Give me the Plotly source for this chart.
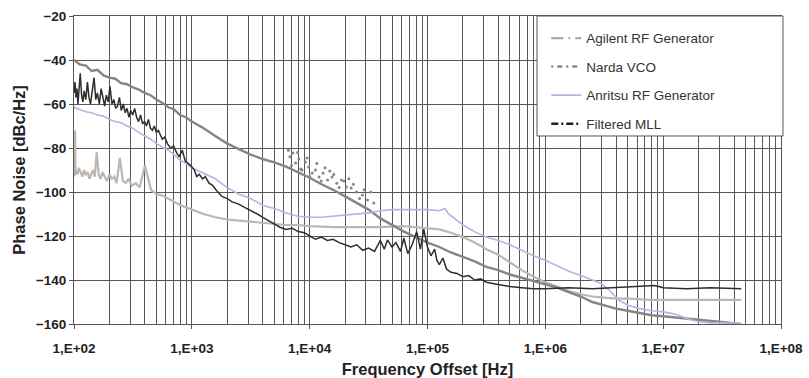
import plotly.graph_objects as go

# ---------------- data ----------------
narda_f = [100, 112, 126, 141, 158, 178, 200, 224, 251, 282, 316, 355, 398, 447, 501, 562, 631, 708, 794, 891,
           1000, 1260, 1580, 2000, 2510, 3160, 3980, 5010, 6310, 7940,
           1.0e4, 1.26e4, 1.58e4, 2.0e4, 2.51e4, 3.16e4, 3.98e4, 5.01e4, 6.31e4, 7.94e4,
           1.0e5, 1.26e5, 1.58e5, 2.0e5, 2.51e5, 3.16e5, 3.98e5, 5.01e5, 6.31e5, 7.94e5,
           1.0e6, 1.26e6, 1.58e6, 2.0e6, 2.51e6, 3.16e6, 3.98e6, 5.01e6, 6.31e6, 7.94e6,
           1.0e7, 1.26e7, 1.58e7, 2.0e7, 2.51e7, 3.16e7, 3.98e7, 4.6e7]
narda_db = [-40, -42, -42.5, -45, -44.5, -47, -48, -48.5, -50.5, -51, -52.5, -53.5, -55, -56, -58, -59.5, -61.5, -62.5, -65, -66,
            -68, -71, -74.5, -78, -80.5, -83, -85, -86.5, -88.5, -91,
            -93.5, -96.5, -99, -102, -105, -108, -112, -115, -118, -120.5,
            -123, -125, -127.5, -129.5, -131.5, -134, -135.5, -137.5, -139, -140.5,
            -142, -143.5, -145.5, -147.5, -150, -151.5, -153, -154, -155, -156,
            -156.5, -157, -157.5, -158, -158.5, -159, -159.5, -160]

narda_spur_f = [6.6e3, 6.8e3, 7.2e3, 7.6e3, 8.1e3, 8.6e3, 9.2e3, 9.8e3, 1.05e4, 1.12e4, 1.2e4, 1.3e4,
                1.42e4, 1.55e4, 1.7e4, 1.86e4, 2.05e4, 2.25e4, 2.5e4, 2.8e4, 3.1e4, 3.5e4,
                7.9e3, 9.5e3, 1.15e4, 1.35e4, 1.6e4, 1.95e4, 2.35e4, 2.9e4,
                7.0e3, 8.4e3, 1.0e4, 1.25e4, 1.48e4, 1.78e4, 2.15e4, 2.65e4, 3.3e4]
narda_spur_db = [-81, -84, -82.3, -86.8, -85, -90, -86.4, -88.6, -91.4, -90, -93.2, -91.4,
                 -94.5, -93.2, -96, -94.5, -97.7, -98.2, -100, -101.4, -103.6, -105,
                 -82, -84.5, -87, -89, -92, -95, -96.5, -99,
                 -88, -89.5, -93, -95, -90.5, -98, -94, -103, -100]

agilent_f = [100, 101, 102, 103, 105, 107, 110, 114, 118, 122,
             126, 131, 135, 140, 145, 150, 156, 162, 168, 175,
             182, 190, 200, 210, 220, 230, 245, 260, 275, 290,
             310, 335, 360, 400, 450, 500, 560, 630, 710, 800,
             1000, 1260, 1580, 2000, 2510, 3160, 3980, 5010, 6310, 7940,
             1.0e4, 1.58e4, 2.51e4, 3.98e4, 6.31e4,
             1.0e5, 1.26e5, 1.58e5, 2.0e5, 2.51e5, 3.16e5, 3.98e5, 5.01e5, 6.31e5, 7.94e5,
             1.0e6, 1.26e6, 1.58e6, 2.0e6, 2.51e6, 3.16e6, 3.98e6, 5.01e6, 7.94e6,
             1.26e7, 2.0e7, 3.16e7, 4.6e7]
agilent_db = [-80, -93, -72, -92, -90, -92, -89, -91, -93, -90,
              -92, -91, -94, -92, -90, -93, -82, -92, -94, -91,
              -93, -95, -92, -94, -93, -96, -84.5, -95, -96, -94,
              -97, -96, -98, -88, -99, -101, -101.5, -103, -104.5, -106,
              -108, -110, -111.5, -112.5, -113, -113.5, -114, -114.5, -115, -115,
              -115.5, -116, -116, -116, -115.5,
              -116.5, -117, -118.5, -120.5, -123, -126, -128.5, -132, -135.5, -138.5,
              -141, -143, -145, -146.5, -147.5, -148, -148.5, -148.5, -149,
              -149, -149, -149, -149]

anritsu_f = [100, 112, 126, 141, 158, 178, 200, 224, 251, 282, 316, 355, 398, 447, 501, 562, 631, 708, 794, 891,
             1000, 1260, 1580, 2000, 2510, 3160, 3980, 5010, 6310, 7940,
             1.0e4, 1.26e4, 1.58e4, 2.0e4, 2.51e4, 3.16e4, 3.98e4, 5.01e4, 6.31e4, 7.94e4,
             1.0e5, 1.26e5, 1.41e5, 1.51e5, 1.78e5, 2.0e5, 2.51e5, 3.16e5, 3.98e5, 5.01e5, 6.31e5, 7.94e5,
             1.0e6, 1.26e6, 1.58e6, 2.0e6, 2.51e6, 2.95e6, 3.55e6, 4.17e6, 5.01e6, 6.31e6, 7.94e6,
             1.0e7, 1.26e7, 1.58e7, 2.0e7, 2.51e7, 3.16e7, 3.98e7, 4.6e7]
anritsu_db = [-61.5, -62.5, -63.5, -64, -65, -65.5, -67, -68, -68.5, -70, -71, -73, -74.5, -76, -78, -79.5, -81, -83, -85.5, -87,
              -89, -91.5, -94, -98, -101, -103, -106, -107.5, -109.5, -111,
              -111.5, -111.5, -111, -110.5, -110, -109.5, -108.5, -108, -108, -108,
              -108, -108.5, -107.5, -110, -113, -115, -118, -120.5, -122, -124, -126.5, -129,
              -131, -133.5, -136, -138, -140, -141.5, -145, -149, -151.5, -153, -154,
              -154.5, -155.5, -157.5, -159, -159.5, -159.5, -159.5, -160]

mll_f = [100, 102, 104, 106, 108, 110, 113, 116, 119, 122, 126, 130, 134, 138, 143, 148, 153, 158, 164, 170,
         176, 182, 188, 195, 202, 210, 218, 226, 234, 243, 252, 262, 272, 282, 292, 303, 315, 327, 340, 353,
         367, 382, 397, 412, 428, 445, 462, 480, 500, 520, 540, 562, 590, 620, 660, 700, 740, 780, 830, 880,
         930, 980, 1050, 1100, 1160, 1230, 1300, 1400, 1500, 1600, 1800, 2000, 2200, 2500, 2800, 3200, 3600,
         4000, 4500, 5000, 5600, 6300, 7100, 8000, 9000,
         1.0e4, 1.12e4, 1.26e4, 1.41e4, 1.58e4, 1.78e4, 2.0e4, 2.24e4, 2.51e4, 2.82e4, 3.16e4, 3.55e4,
         3.98e4, 4.3e4, 4.57e4, 5.0e4, 5.4e4, 5.9e4, 6.3e4, 6.8e4, 7.4e4, 8.1e4, 8.7e4, 9.3e4,
         1.0e5, 1.07e5, 1.15e5, 1.2e5, 1.26e5, 1.35e5, 1.45e5, 1.58e5, 1.78e5, 2.0e5, 2.24e5, 2.51e5,
         2.82e5, 3.16e5, 3.98e5, 5.01e5, 6.31e5, 7.94e5,
         1.0e6, 1.58e6, 2.51e6, 3.98e6, 5.01e6, 8.5e6, 1.0e7, 1.58e7, 2.51e7, 3.98e7, 4.6e7]
mll_db = [-55, -50, -57, -53, -60, -52, -46, -56, -59, -54, -58, -50, -57, -60, -53, -48, -58, -55, -60, -53,
          -57, -61, -56, -59, -52, -60, -58, -62, -61, -57, -63, -60, -64, -62, -66, -63, -65, -62, -66, -68,
          -65, -69, -68, -70, -67, -71, -72, -70, -73, -72, -74, -76, -75, -78, -80, -79, -82, -84, -81, -86,
          -87, -88, -90, -93, -92, -94, -93, -96, -97, -99, -102, -103, -104.5, -105.5, -107, -108.5, -110,
          -111.5, -113, -114.5, -116, -117, -116.5, -118, -118.5,
          -120, -121.5, -120.5, -122, -121.5, -123, -124, -125, -124, -126.5, -125.5, -127,
          -122, -126, -121.8, -125, -123, -127, -121, -128, -124, -118, -126, -117,
          -125, -129, -126, -131, -133, -130, -135, -136.5, -137, -138.5, -138, -140,
          -139.5, -141, -142, -143, -143.5, -144,
          -144, -143.5, -144, -143.5, -143, -142.5, -143.5, -144, -143.5, -144, -144]

x_tick_vals = [1e2, 1e3, 1e4, 1e5, 1e6, 1e7, 1e8]
x_tick_text = ["1,E+02", "1,E+03", "1,E+04", "1,E+05", "1,E+06", "1,E+07", "1,E+08"]
y_tick_vals = [-160, -140, -120, -100, -80, -60, -40, -20]

series_names = ["Agilent RF Generator", "Narda VCO", "Anritsu RF Generator", "Filtered MLL"]

# ---------------- styles ----------------
C_AGILENT = "#bdb6b1"
C_NARDA = "#8a8480"
C_ANRITSU = "#b4b4e4"
C_MLL = "#2e2e2e"
FONT = "Liberation Sans, Arial, sans-serif"
GRID = "#585858"

fig = go.Figure()

# data traces
fig.add_trace(go.Scatter(x=agilent_f, y=agilent_db, mode="lines", line=dict(color=C_AGILENT, width=2.2),
                         showlegend=False, hoverinfo="skip"))
fig.add_trace(go.Scatter(x=narda_f, y=narda_db, mode="lines", line=dict(color=C_NARDA, width=2.4),
                         showlegend=False, hoverinfo="skip"))
fig.add_trace(go.Scatter(x=narda_spur_f, y=narda_spur_db, mode="markers",
                         marker=dict(color=C_NARDA, size=3), showlegend=False, hoverinfo="skip"))
fig.add_trace(go.Scatter(x=anritsu_f, y=anritsu_db, mode="lines", line=dict(color=C_ANRITSU, width=1.6),
                         showlegend=False, hoverinfo="skip"))
fig.add_trace(go.Scatter(x=mll_f, y=mll_db, mode="lines", line=dict(color=C_MLL, width=1.5),
                         showlegend=False, hoverinfo="skip"))

# legend entries
legend_styles = [
    dict(color="#b3a8a2", width=2.2, dash="12px,5px,2px,5px"),
    dict(color="#6e6e6e", width=2, dash="2px,4px,5px,4px"),
    dict(color=C_ANRITSU, width=1.6, dash="solid"),
    dict(color="#1e1e1e", width=2.4, dash="7px,3px,2px,3px"),
]
for i, (nm, st) in enumerate(zip(series_names, legend_styles)):
    fig.add_trace(go.Scatter(x=[None], y=[None], mode="lines", name=nm, line=st,
                             legendgroup=f"g{i}", showlegend=True))

# legend box
fig.add_shape(type="rect", xref="paper", yref="paper", x0=0.6549, x1=1.0028, y0=0.6104, y1=1.0,
              line=dict(color="#555555", width=1), fillcolor="white", layer="above")

axis_common = dict(
    showgrid=True, gridcolor=GRID, gridwidth=1.4,
    showline=True, linecolor="#555555", linewidth=1, mirror=True,
    ticks="outside", ticklen=4, tickcolor="#555555",
    zeroline=False, automargin=False,
    tickfont=dict(family=FONT, size=13.5, color="#222222", weight="bold"),
)

fig.update_layout(
    width=809, height=378,
    margin=dict(l=74, r=28, t=16, b=54),
    paper_bgcolor="white", plot_bgcolor="white",
    font=dict(family=FONT, color="#222222"),
    xaxis=dict(type="log", range=[2, 8], tickmode="array", tickvals=x_tick_vals, ticktext=x_tick_text,
               minor=dict(dtick="D1", showgrid=True, gridcolor=GRID, gridwidth=1.4, ticks=""),
               ticklabelstandoff=8,
               title=dict(text="Frequency Offset [Hz]", font=dict(family=FONT, size=16.5, color="#222222", weight="bold"),
                          standoff=8),
               **axis_common),
    yaxis=dict(range=[-160, -20], tickmode="array", tickvals=y_tick_vals,
               title=dict(text="Phase Noise [dBc/Hz]", font=dict(family=FONT, size=16.5, color="#222222", weight="bold"),
                          standoff=6),
               **axis_common),
    legend=dict(x=0.668, y=0.978, xanchor="left", yanchor="top", bgcolor="rgba(0,0,0,0)", borderwidth=0,
                font=dict(family=FONT, size=13.5, color="#333333"), tracegroupgap=8, itemwidth=30),
    showlegend=True,
)

fig.write_html("out.html", config={"displayModeBar": False},
               post_script="document.body.style.margin='0';document.body.style.overflow='hidden';")
